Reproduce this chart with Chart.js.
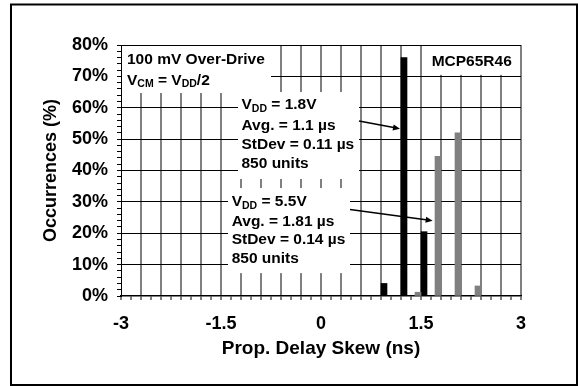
<!DOCTYPE html>
<html>
<head>
<meta charset="utf-8">
<script src="https://cdn.jsdelivr.net/npm/chart.js@4.4.0/dist/chart.umd.min.js"></script>
<style>
  html, body { margin: 0; padding: 0; background: #fff; }
  #wrap { width: 578px; height: 386px; }
</style>
</head>
<body>
<div id="wrap"><canvas id="grafico"></canvas></div>
<script>
// valores
const skewVdd18 = [0.9, 1.2, 1.5];
const occVdd18 = [4, 76, 20.5];
const skewVdd55 = [1.5, 1.8, 2.1, 2.4];
const occVdd55 = [1.2, 44.5, 52, 3.2];
const xLabels = [-3, -1.5, 0, 1.5, 3];
const yLabels = [0, 10, 20, 30, 40, 50, 60, 70, 80];

const FONT = '"Liberation Sans", Arial, sans-serif';

const esMultiplo = (v, paso) => Math.abs(v / paso - Math.round(v / paso)) < 1e-6;

// cajas blancas y textos (en unidades de los ejes)
const cajas = [
    { x0: -3, x1: -0.75, y0: 64.7, y1: 80 },
    { x0: -1.245, x1: 0.57, y0: 37.3, y1: 65 },
    { x0: -1.395, x1: 0.435, y0: 7.3, y1: 34.4 },
    { x0: 1.56, x1: 3, y0: 70.5, y1: 80 }
];

const textos = [
    { x: -2.91, y: 75.2, partes: ['100 mV Over-Drive'] },
    { x: -2.91, y: 68.7, partes: ['V', '_CM', ' = V', '_DD', '/2'] },
    { x: -1.193, y: 60.9, partes: ['V', '_DD', ' = 1.8V'] },
    { x: -1.193, y: 54.3, partes: ['Avg. = 1.1 µs'] },
    { x: -1.193, y: 48.1, partes: ['StDev = 0.11 µs'] },
    { x: -1.193, y: 42.2, partes: ['850 units'] },
    { x: -1.34, y: 29.9, partes: ['V', '_DD', ' = 5.5V'] },
    { x: -1.34, y: 23.7, partes: ['Avg. = 1.81 µs'] },
    { x: -1.34, y: 17.8, partes: ['StDev = 0.14 µs'] },
    { x: -1.34, y: 12.0, partes: ['850 units'] },
    { x: 1.66, y: 74.7, partes: ['MCP65R46'] }
];

const flechas = [
    { x0: 0.57, y0: 55.8, x1: 1.185, y1: 53.3 },
    { x0: 0.435, y0: 27.6, x1: 1.675, y1: 24.0 }
];

function textoRico(ctx, partes, x, y) {
    let cx = x;
    partes.forEach(p => {
        const sub = p.startsWith('_');
        const t = sub ? p.slice(1) : p;
        ctx.font = 'bold ' + (sub ? 10.5 : 15.5) + 'px ' + FONT;
        ctx.fillText(t, cx, y + (sub ? 4 : 0));
        cx += ctx.measureText(t).width;
    });
}

const notas = {
    id: 'notas',
    beforeDraw(chart) {
        const ctx = chart.ctx;
        ctx.save();
        ctx.fillStyle = '#fff';
        ctx.fillRect(0, 0, chart.width, chart.height);
        ctx.restore();
    },
    afterDatasetsDraw(chart) {
        const { ctx, chartArea: a, scales: { x, y } } = chart;
        ctx.save();
        ctx.beginPath();
        ctx.rect(a.left + 1, a.top + 1, a.right - a.left - 3, a.bottom - a.top - 2);
        ctx.clip();
        ctx.fillStyle = '#fff';
        cajas.forEach(c => {
            const px0 = x.getPixelForValue(c.x0), px1 = x.getPixelForValue(c.x1);
            const py0 = y.getPixelForValue(c.y1), py1 = y.getPixelForValue(c.y0);
            ctx.fillRect(px0, py0, px1 - px0, py1 - py0);
        });
        ctx.restore();

        ctx.save();
        ctx.fillStyle = '#000';
        ctx.textBaseline = 'middle';
        ctx.textAlign = 'left';
        textos.forEach(t => textoRico(ctx, t.partes, x.getPixelForValue(t.x), y.getPixelForValue(t.y)));

        ctx.strokeStyle = '#000';
        ctx.lineWidth = 1.5;
        flechas.forEach(f => {
            const ax = x.getPixelForValue(f.x0), ay = y.getPixelForValue(f.y0);
            const bx = x.getPixelForValue(f.x1), by = y.getPixelForValue(f.y1);
            const ang = Math.atan2(by - ay, bx - ax);
            ctx.beginPath();
            ctx.moveTo(ax, ay);
            ctx.lineTo(bx - 5 * Math.cos(ang), by - 5 * Math.sin(ang));
            ctx.stroke();
            ctx.beginPath();
            ctx.moveTo(bx, by);
            ctx.lineTo(bx - 7 * Math.cos(ang) + 3 * Math.sin(ang), by - 7 * Math.sin(ang) - 3 * Math.cos(ang));
            ctx.lineTo(bx - 7 * Math.cos(ang) - 3 * Math.sin(ang), by - 7 * Math.sin(ang) + 3 * Math.cos(ang));
            ctx.closePath();
            ctx.fill();
        });
        ctx.restore();
    },
    afterDraw(chart) {
        const ctx = chart.ctx;
        ctx.save();
        ctx.strokeStyle = '#000';
        ctx.lineWidth = 2;
        ctx.strokeRect(11, 4.5, 566, 380.5);
        ctx.restore();
    }
};

const ctx = document.getElementById('grafico').getContext('2d');
new Chart(ctx, {
    type: 'bar',
    data: {
        datasets: [{
            label: 'VDD = 5.5V',
            data: skewVdd55.map((v, i) => ({ x: v, y: occVdd55[i] })),
            backgroundColor: '#808080'
        }, {
            label: 'VDD = 1.8V',
            data: skewVdd18.map((v, i) => ({ x: v, y: occVdd18[i] })),
            backgroundColor: '#000'
        }]
    },
    options: {
        animation: false,
        responsive: true,
        maintainAspectRatio: false,
        barThickness: 6,
        layout: { padding: { left: 0, top: 45, right: 57, bottom: 0 } },
        scales: {
            x: {
                type: 'linear',
                min: -3, max: 3,
                offset: false,
                afterFit: s => { s.height = 90; },
                grid: {
                    offset: false,
                    color: c => (esMultiplo(c.tick.value, 0.3) && c.tick.value > -2.99) ? '#808080' : 'rgba(0,0,0,0)',
                    lineWidth: 2,
                    tickLength: 4,
                    tickColor: '#000',
                    tickWidth: 1
                },
                border: { color: '#000', width: 1.5 },
                ticks: {
                    stepSize: 0.15,
                    autoSkip: false,
                    maxRotation: 0,
                    padding: 13,
                    color: '#000',
                    font: { family: FONT, size: 18, weight: 'bold' },
                    callback: v => xLabels.some(l => Math.abs(l - v) < 1e-6) ? String(Math.round(v * 10) / 10) : ''
                },
                title: {
                    display: true,
                    text: 'Prop. Delay Skew (ns)',
                    color: '#000',
                    font: { family: FONT, size: 19, weight: 'bold' },
                    padding: { top: 0, bottom: 26 }
                }
            },
            y: {
                min: 0, max: 80,
                afterFit: s => { s.width = 121; },
                grid: {
                    color: c => (esMultiplo(c.tick.value, 10) && c.tick.value > 0) ? '#000' : 'rgba(0,0,0,0)',
                    lineWidth: 1,
                    tickLength: 4,
                    tickColor: '#000',
                    tickWidth: 1
                },
                border: { color: '#000', width: 1 },
                ticks: {
                    stepSize: 2,
                    autoSkip: false,
                    padding: 9,
                    color: '#000',
                    font: { family: FONT, size: 18, weight: 'bold' },
                    callback: v => yLabels.includes(v) ? v + '%' : ''
                },
                title: {
                    display: true,
                    text: 'Occurrences (%)',
                    color: '#000',
                    font: { family: FONT, size: 18, weight: 'bold' },
                    padding: { top: 40, bottom: 0 }
                }
            }
        },
        plugins: {
            legend: { display: false },
            tooltip: { enabled: false }
        }
    },
    plugins: [notas]
});
</script>
</body>
</html>
